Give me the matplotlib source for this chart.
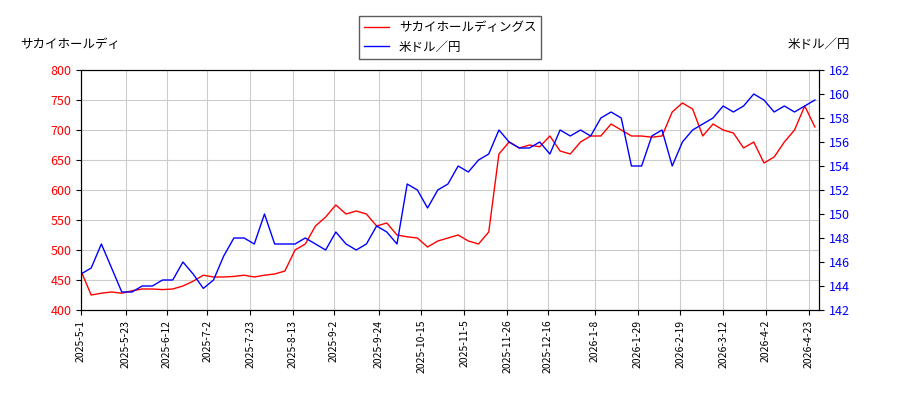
import matplotlib
matplotlib.use("Agg")
import matplotlib.pyplot as plt
import pandas as pd

plt.rcParams['font.family'] = ['Noto Sans CJK JP', 'DejaVu Sans']

sakai = [465,425,428,430,428,432,435,435,434,435,440,448,458,455,455,456,458,455,458,460,
         465,500,510,540,555,575,560,565,560,540,545,525,522,520,505,515,520,525,515,510,
         530,660,680,670,675,672,690,665,660,680,690,690,710,700,690,690,688,690,730,745,
         735,690,710,700,695,670,680,645,655,680,700,740,705]
usd = [145,145.5,147.5,145.5,143.5,143.5,144,144,144.5,144.5,146,145,143.8,144.5,146.5,148,148,
       147.5,150,147.5,147.5,147.5,148,147.5,147,148.5,147.5,147,147.5,149,148.5,147.5,152.5,152,
       150.5,152,152.5,154,153.5,154.5,155,157,156,155.5,155.5,156,155,157,156.5,157,156.5,158,
       158.5,158,154,154,156.5,157,154,156,157,157.5,158,159,158.5,159,160,159.5,158.5,159,158.5,
       159,159.5]
tick_labels = ["2025-5-1","2025-5-23","2025-6-12","2025-7-2","2025-7-23","2025-8-13","2025-9-2",
               "2025-9-24","2025-10-15","2025-11-5","2025-11-26","2025-12-16","2026-1-8","2026-1-29",
               "2026-2-19","2026-3-12","2026-4-2","2026-4-23"]

d1 = pd.date_range("2025-05-01", periods=len(sakai), freq="5D")
d2 = pd.date_range("2025-05-01", periods=len(usd), freq="5D")

fig, ax = plt.subplots(figsize=(9, 4), dpi=100)
fig.subplots_adjust(left=0.09, right=0.91, top=0.825, bottom=0.225)
ax2 = ax.twinx()
l1, = ax.plot(d1, sakai, color="red", lw=1, label="サカイホールディングス")
l2, = ax2.plot(d2, usd, color="blue", lw=1, label="米ドル／円")
ax.set_ylim(400, 800)
ax2.set_ylim(142, 162)
ax2.set_yticks(range(142, 163, 2))
ticks = pd.to_datetime(tick_labels)
ax.set_xticks(ticks)
ax.set_xticklabels(tick_labels, rotation=90, fontsize=7.5)
ax.set_xlim(pd.Timestamp("2025-05-01"), pd.Timestamp("2026-04-28"))
ax.grid(True, color="#cccccc")
ax.tick_params(axis='y', labelsize=9, labelcolor='red')
ax2.tick_params(axis='y', labelsize=9, labelcolor='blue')
fig.text(0.022, 0.88, "サカイホールディ", fontsize=9)
fig.text(0.945, 0.88, "米ドル／円", fontsize=9, ha='right')
fig.legend(handles=[l1, l2], loc='upper center', bbox_to_anchor=(0.5, 0.975), fontsize=9,
           fancybox=False, edgecolor='#333333')
fig.savefig("out.png")
